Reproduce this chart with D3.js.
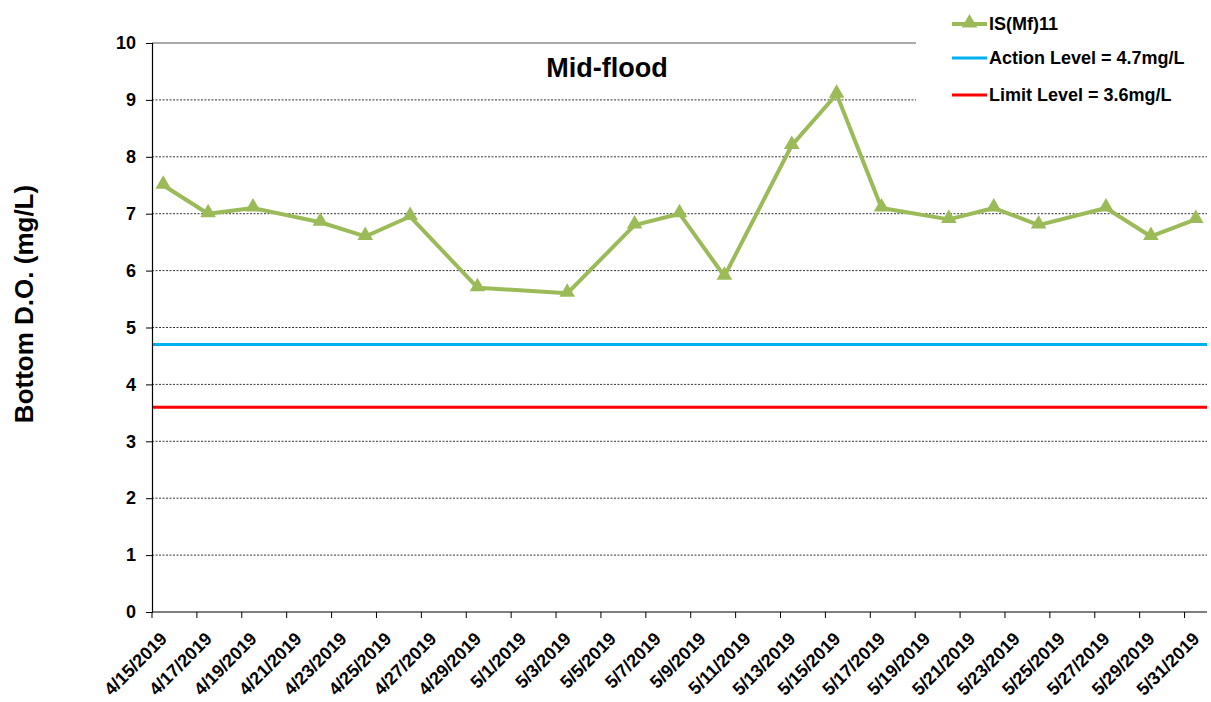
<!DOCTYPE html>
<html>
<head>
<meta charset="utf-8">
<script src="https://cdn.jsdelivr.net/npm/d3@7"></script>
<style>
  html, body { margin: 0; padding: 0; background: #fff; }
  svg { display: block; font-family: "Liberation Sans", Arial, sans-serif; }
</style>
</head>
<body>
<div id="chart"></div>
<script>
// == DATA ==
const dates = ['2019-04-15', '2019-04-17', '2019-04-19', '2019-04-22', '2019-04-24', '2019-04-26',
  '2019-04-29', '2019-05-03', '2019-05-06', '2019-05-08', '2019-05-10', '2019-05-13',
  '2019-05-15', '2019-05-17', '2019-05-20', '2019-05-22', '2019-05-24', '2019-05-27',
  '2019-05-29', '2019-05-31'];
const doValues = [7.5, 7.0, 7.1, 6.85, 6.6, 6.95, 5.7, 5.6, 6.8, 7.0, 5.9, 8.2, 9.1, 7.1,
  6.9, 7.1, 6.8, 7.1, 6.6, 6.9];
const actionLevel = 4.7;
const limitLevel = 3.6;
const yTicks = [0, 1, 2, 3, 4, 5, 6, 7, 8, 9, 10];
const legendItems = ['IS(Mf)11', 'Action Level = 4.7mg/L', 'Limit Level = 3.6mg/L'];

// == CONFIG ==
const COLOR_SERIES = '#9BBB59';
const COLOR_ACTION = '#00B0F0';
const COLOR_LIMIT = '#FF0000';
const W = 1211, H = 702;
const M = { left: 152, right: 1207, top: 43, bottom: 612 };
const DAY = 864e5;
const FONT = '"Liberation Sans", Arial, sans-serif';

const parse = d3.utcParse('%Y-%m-%d');
const data = dates.map((d, i) => ({ date: parse(d), v: doValues[i] }));
const first = parse(dates[0]), last = parse(dates[dates.length - 1]);

const x = d3.scaleUtc()
  .domain([new Date(+first - DAY / 2), new Date(+last + DAY / 2)])
  .range([M.left, M.right]);
const y = d3.scaleLinear().domain([0, 10]).range([M.bottom, M.top]);

const tickDates = d3.utcDay.range(first, new Date(+last + DAY), 2);

const svg = d3.select('#chart').append('svg').attr('width', W).attr('height', H);

// gridlines
svg.append('g').selectAll('line')
  .data(yTicks.filter(t => t > 0))
  .join('line')
  .attr('x1', M.left).attr('x2', M.right)
  .attr('y1', d => y(d)).attr('y2', d => y(d))
  .attr('stroke', d => d === 10 ? '#8c8c8c' : '#000')
  .attr('stroke-width', d => d === 10 ? 1.5 : 0.8)
  .attr('stroke-dasharray', d => d === 10 ? null : '2,1.5');

// reference lines
svg.append('line')
  .attr('x1', M.left).attr('x2', M.right)
  .attr('y1', y(actionLevel)).attr('y2', y(actionLevel))
  .attr('stroke', COLOR_ACTION).attr('stroke-width', 3);
svg.append('line')
  .attr('x1', M.left).attr('x2', M.right)
  .attr('y1', y(limitLevel)).attr('y2', y(limitLevel))
  .attr('stroke', COLOR_LIMIT).attr('stroke-width', 3);

// y axis
const yAxis = svg.append('g').attr('transform', `translate(${M.left},0)`)
  .call(d3.axisLeft(y).tickValues(yTicks).tickSize(6).tickPadding(10).tickFormat(d3.format('d')));
yAxis.select('.domain').attr('stroke', '#000').attr('stroke-width', 1.2);
yAxis.selectAll('.tick line').attr('stroke', '#000');
yAxis.selectAll('text').attr('font-size', 18).attr('font-weight', 'bold').attr('fill', '#000')
  .attr('font-family', FONT);

// x axis: ticks at left edge of each 2-day band, labels at day centre
const xg = svg.append('g');
xg.append('line')
  .attr('x1', M.left).attr('x2', M.right)
  .attr('y1', M.bottom).attr('y2', M.bottom)
  .attr('stroke', '#000').attr('stroke-width', 1.2);
xg.selectAll('line.tk').data(tickDates).join('line')
  .attr('class', 'tk')
  .attr('x1', d => x(new Date(+d - DAY / 2))).attr('x2', d => x(new Date(+d - DAY / 2)))
  .attr('y1', M.bottom).attr('y2', M.bottom + 6)
  .attr('stroke', '#000');
const fmt = d => `${d.getUTCMonth() + 1}/${d.getUTCDate()}/${d.getUTCFullYear()}`;
xg.selectAll('text').data(tickDates).join('text')
  .attr('transform', d => `translate(${x(d) - 4},${M.bottom + 19}) rotate(-45)`)
  .attr('text-anchor', 'end')
  .attr('dy', '0.7em')
  .attr('font-size', 18).attr('font-weight', 'bold')
  .text(fmt);

// series
const line = d3.line().x(d => x(d.date)).y(d => y(d.v));
svg.append('path').datum(data)
  .attr('d', line)
  .attr('fill', 'none')
  .attr('stroke', COLOR_SERIES)
  .attr('stroke-width', 4)
  .attr('stroke-linejoin', 'round');
const tri = d3.symbol().type(d3.symbolTriangle).size(105);
svg.append('g').selectAll('path').data(data).join('path')
  .attr('transform', d => `translate(${x(d.date)},${y(d.v) - 1})`)
  .attr('d', tri)
  .attr('fill', COLOR_SERIES);

// title
svg.append('text')
  .attr('x', 607).attr('y', 77)
  .attr('text-anchor', 'middle')
  .attr('font-size', 27).attr('font-weight', 'bold')
  .text('Mid-flood');

// y axis title
svg.append('text')
  .attr('transform', 'translate(33,304) rotate(-90)')
  .attr('text-anchor', 'middle')
  .attr('font-size', 26).attr('font-weight', 'bold')
  .text('Bottom D.O. (mg/L)');

// legend
const lg = svg.append('g');
lg.append('rect').attr('x', 916).attr('y', 0).attr('width', W - 916).attr('height', 118).attr('fill', '#fff');
const legendColors = [COLOR_SERIES, COLOR_ACTION, COLOR_LIMIT];
const legendY = [24, 58, 95];
legendItems.forEach((name, i) => {
  lg.append('line')
    .attr('x1', 952).attr('x2', 987)
    .attr('y1', legendY[i]).attr('y2', legendY[i])
    .attr('stroke', legendColors[i]).attr('stroke-width', i === 0 ? 4 : 3);
  if (i === 0) {
    lg.append('path').attr('d', tri).attr('fill', COLOR_SERIES)
      .attr('transform', `translate(969.5,${legendY[i] - 1})`);
  }
  lg.append('text')
    .attr('x', 989).attr('y', legendY[i])
    .attr('dy', '0.36em')
    .attr('font-size', 18).attr('font-weight', 'bold')
    .text(name);
});
</script>
</body>
</html>
